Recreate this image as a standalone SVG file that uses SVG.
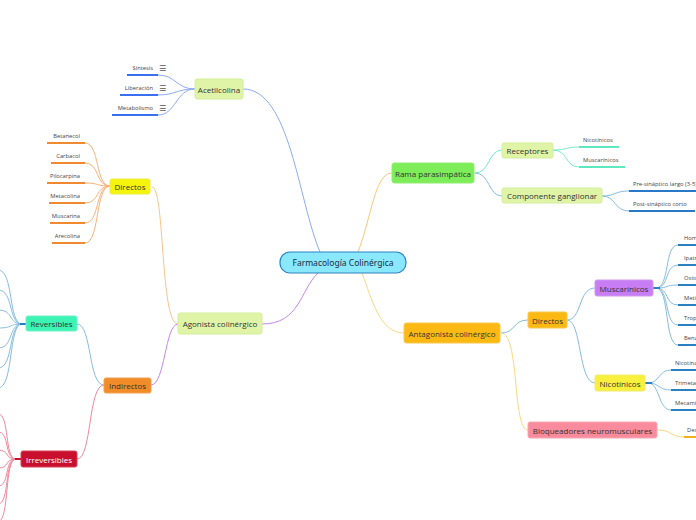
<svg xmlns="http://www.w3.org/2000/svg" width="696" height="520" viewBox="0 0 696 520">
<style>
text{font-family:"Open Sans","Noto Sans","Liberation Sans",sans-serif;fill:#333}
.n{font-size:8px;text-anchor:middle;dominant-baseline:central}
.l{font-size:5.8px;text-anchor:end;fill:#444}
.r{font-size:5.8px;fill:#444}
.c{fill:none;stroke-width:1}
.u{stroke-width:2;fill:none}
.ic{font-family:"DejaVu Sans",sans-serif;font-size:8px;fill:#555}
</style>
<rect width="696" height="520" fill="#fff"/>
<g id="connectors">
  <!-- central branches -->
  <path class="c" stroke="#8fa9f5" d="M243,89 C290,89 298,200 320,252"/>
  <path class="c" stroke="#c586f0" d="M262,324 C300,324 300,290 318,273"/>
  <path class="c" stroke="#f8c878" d="M358,252 C372,215 375,173 392,173"/>
  <path class="c" stroke="#f8d88a" d="M362,273 C372,300 380,333 404,333"/>
  <!-- Acetilcolina leaves -->
  <path class="c" stroke="#8fa9f5" d="M195,89 C176,89 176,75 158,75"/>
  <path class="c" stroke="#8fa9f5" d="M195,89 C176,89 176,95 158,95"/>
  <path class="c" stroke="#8fa9f5" d="M195,89 C176,89 176,115 158,115"/>
  <path class="u" stroke="#3a6ff0" d="M127,75 H158 M120,95 H158 M112,115 H158"/>
  <!-- Agonista -->
  <path class="c" stroke="#f8c48e" d="M152,187 C165,187 160,324 178,324"/>
  <path class="c" stroke="#c586f0" d="M151,385 C165,385 165,324 178,324"/>
  <!-- Directos left leaves -->
  <g stroke="#f6b27a" class="c">
    <path d="M110,186 C95,186 100,143 85,143"/>
    <path d="M110,186 C95,186 100,163 85,163"/>
    <path d="M110,186 C95,186 100,183 85,183"/>
    <path d="M110,186 C95,186 100,203 85,203"/>
    <path d="M110,186 C95,186 100,223 85,223"/>
    <path d="M110,186 C95,186 100,243 85,243"/>
  </g>
  <path class="u" stroke="#f08a30" d="M47,143 H85 M51,163 H85 M47,183 H85 M49,203 H85 M50,223 H85 M52,243 H85"/>
  <!-- Indirectos -->
  <path class="c" stroke="#88bde0" d="M77,324 C92,324 88,385 104,385"/>
  <path class="c" stroke="#f0889a" d="M77,459 C92,459 88,385 104,385"/>
  <!-- Reversibles leaves -->
  <g stroke="#88bde0" class="c">
    <path d="M22,324 C8,324 14,270 -2,270"/>
    <path d="M22,324 C8,324 14,290 -2,290"/>
    <path d="M22,324 C8,324 14,310 -2,310"/>
    <path d="M22,324 C8,324 14,328 -2,328"/>
    <path d="M22,324 C8,324 14,348 -2,348"/>
    <path d="M22,324 C8,324 14,368 -2,368"/>
    <path d="M22,324 C8,324 14,388 -2,388"/>
  </g>
  <path stroke="#2a78c8" stroke-width="2" d="M20,324 H26"/>
  <!-- Irreversibles leaves -->
  <g stroke="#f0889a" class="c">
    <path d="M16,459 C4,459 10,414 -2,414"/>
    <path d="M16,459 C4,459 10,432 -2,432"/>
    <path d="M16,459 C4,459 10,450 -2,450"/>
    <path d="M16,459 C4,459 10,468 -2,468"/>
    <path d="M16,459 C4,459 10,486 -2,486"/>
    <path d="M16,459 C4,459 10,504 -2,504"/>
    <path d="M16,459 C4,459 10,520 -2,522"/>
  </g>
  <path stroke="#c8102e" stroke-width="2" d="M15,459 H21"/>
  <!-- Rama parasimpatica -->
  <path class="c" stroke="#70ecc8" d="M475,173 C490,173 488,150 502,150"/>
  <path class="c" stroke="#88bde0" d="M475,173 C490,173 488,196 502,196"/>
  <path class="c" stroke="#70ecc8" d="M553,150 C568,150 565,147 579,147"/>
  <path class="c" stroke="#70ecc8" d="M553,150 C568,150 565,167 579,167"/>
  <path class="u" stroke="#5ee8c0" d="M579,147 H619 M579,167 H625"/>
  <path class="c" stroke="#88bde0" d="M602,196 C616,196 614,191 629,191"/>
  <path class="c" stroke="#88bde0" d="M602,196 C616,196 614,211 629,211"/>
  <path class="u" stroke="#2a78c8" d="M629,191 H696 M629,211 H695"/>
  <!-- Antagonista -->
  <path class="c" stroke="#88bde0" d="M501,333 C516,333 512,320 528,320"/>
  <path class="c" stroke="#f8d880" d="M501,333 C520,333 512,430 528,430"/>
  <path class="c" stroke="#88bde0" d="M567,320 C582,320 578,288 595,288"/>
  <path class="c" stroke="#88bde0" d="M567,320 C582,320 578,383 595,383"/>
  <!-- Muscarinicos leaves -->
  <g stroke="#88bde0" class="c">
    <path d="M656,288 C670,288 664,245 678,245"/>
    <path d="M656,288 C670,288 664,265 678,265"/>
    <path d="M656,288 C670,288 664,285 678,285"/>
    <path d="M656,288 C670,288 664,305 678,305"/>
    <path d="M656,288 C670,288 664,325 678,325"/>
    <path d="M656,288 C670,288 664,345 678,345"/>
  </g>
  <path stroke="#2a80c0" stroke-width="2" d="M653,288 H660"/>
  <path class="u" stroke="#2a80c0" d="M678,245 H696 M678,265 H696 M678,285 H696 M678,305 H696 M678,325 H696 M678,345 H696"/>
  <!-- Nicotinicos leaves -->
  <g stroke="#88bde0" class="c">
    <path d="M648,383 C660,383 658,370 671,370"/>
    <path d="M648,383 C660,383 658,390 671,390"/>
    <path d="M648,383 C660,383 658,410 671,410"/>
  </g>
  <path stroke="#2a80c0" stroke-width="2" d="M645,383 H652"/>
  <path class="u" stroke="#2a80c0" d="M671,370 H696 M671,390 H696 M671,410 H696"/>
  <!-- Bloqueadores -->
  <path class="c" stroke="#f8d880" d="M658,430 C672,430 670,437 684,437"/>
  <path class="u" stroke="#f0b020" d="M684,437 H696"/>
</g>

<g id="central">
  <rect x="280" y="252" width="126" height="21" rx="10" fill="#8ae8fc" stroke="#2d82c6" stroke-width="1.2"/>
  <text class="n" x="343" y="262.5" style="font-size:8.5px;font-family:'Noto Sans','Liberation Sans',sans-serif;fill:#1a2a40">Farmacología Colinérgica</text>
</g>

<g id="acetilcolina">
  <rect x="195" y="79" width="48" height="20" rx="2.5" fill="#e0f4a8" stroke="#d3ee98"/>
  <text class="n" x="219" y="89">Acetilcolina</text>
</g>
<g id="sintesis"><text class="l" x="153" y="70">Síntesis</text><text class="ic" x="159" y="71">☰</text></g>
<g id="liberacion"><text class="l" x="153" y="90">Liberación</text><text class="ic" x="159" y="91">☰</text></g>
<g id="metabolismo"><text class="l" x="153" y="110">Metabolismo</text><text class="ic" x="159" y="111">☰</text></g>

<g id="directos-ag">
  <rect x="110" y="179" width="40" height="15" rx="2" fill="#f5f50c" stroke="#ecec40"/>
  <text class="n" x="130" y="186.5">Directos</text>
</g>
<g id="betanecol"><text class="l" x="80" y="138">Betanecol</text></g>
<g id="carbacol"><text class="l" x="80" y="158">Carbacol</text></g>
<g id="pilocarpina"><text class="l" x="80" y="178">Pilocarpina</text></g>
<g id="metacolina"><text class="l" x="80" y="198">Metacolina</text></g>
<g id="muscarina"><text class="l" x="80" y="218">Muscarina</text></g>
<g id="arecolina"><text class="l" x="80" y="238">Arecolina</text></g>

<g id="agonista">
  <rect x="178" y="313" width="84" height="21" rx="2.5" fill="#e0f4a8" stroke="#d3ee98"/>
  <text class="n" x="220" y="323.5">Agonista colinérgico</text>
</g>
<g id="indirectos">
  <rect x="104" y="378" width="47" height="15" rx="2" fill="#f28c28" stroke="#f0a050"/>
  <text class="n" x="127.5" y="385.5">Indirectos</text>
</g>
<g id="reversibles">
  <rect x="26" y="316" width="51" height="15" rx="2" fill="#3cf5b4" stroke="#70f0c8"/>
  <text class="n" x="51.5" y="323.5">Reversibles</text>
</g>
<g id="irreversibles">
  <rect x="21" y="451" width="56" height="16" rx="2" fill="#c8102e" stroke="#d84058"/>
  <text class="n" x="49" y="459" style="fill:#fff">Irreversibles</text>
</g>

<g id="rama">
  <rect x="392" y="163" width="82" height="20" rx="2.5" fill="#7ded5a" stroke="#90ec70"/>
  <text class="n" x="433" y="173">Rama parasimpática</text>
</g>
<g id="receptores">
  <rect x="502" y="143" width="51" height="15" rx="2" fill="#e0f4a8" stroke="#d3ee98"/>
  <text class="n" x="527.5" y="150.5">Receptores</text>
</g>
<g id="nicotinicos-r"><text class="r" x="583" y="142">Nicotínicos</text></g>
<g id="muscarinicos-r"><text class="r" x="583" y="162">Muscarínicos</text></g>
<g id="componente">
  <rect x="502" y="188" width="100" height="15" rx="2" fill="#e0f4a8" stroke="#d3ee98"/>
  <text class="n" x="552" y="195.5">Componente ganglionar</text>
</g>
<g id="presinaptico"><text class="r" x="633" y="186">Pre-sináptico largo (3-5)</text></g>
<g id="postsinaptico"><text class="r" x="633" y="206">Post-sináptico corto</text></g>

<g id="antagonista">
  <rect x="404" y="323" width="96" height="20" rx="2.5" fill="#fdb913" stroke="#f8c850"/>
  <text class="n" x="452" y="333">Antagonista colinérgico</text>
</g>
<g id="directos-an">
  <rect x="528" y="312" width="39" height="16" rx="2" fill="#fdb913" stroke="#f8c850"/>
  <text class="n" x="547.5" y="320">Directos</text>
</g>
<g id="muscarinicos">
  <rect x="595" y="280" width="58" height="16" rx="2" fill="#c77df3" stroke="#d098f0"/>
  <text class="n" x="624" y="288">Muscarínicos</text>
</g>
<g id="homatropina"><text class="r" x="684" y="240">Homatropina</text></g>
<g id="ipatropio"><text class="r" x="684" y="260">Ipatropio</text></g>
<g id="oxitropio"><text class="r" x="684" y="280">Oxitropio</text></g>
<g id="metilescopolamina"><text class="r" x="684" y="300">Metilescopolamina</text></g>
<g id="tropicamida"><text class="r" x="684" y="320">Tropicamida</text></g>
<g id="benztropina"><text class="r" x="684" y="340">Benztropina</text></g>
<g id="nicotinicos">
  <rect x="595" y="375" width="50" height="16" rx="2" fill="#f8f03c" stroke="#f0ea70"/>
  <text class="n" x="620" y="383">Nicotínicos</text>
</g>
<g id="nicotina"><text class="r" x="675" y="365">Nicotina</text></g>
<g id="trimetafan"><text class="r" x="675" y="385">Trimetafán</text></g>
<g id="mecamilamina"><text class="r" x="675" y="405">Mecamilamina</text></g>
<g id="bloqueadores">
  <rect x="528" y="422" width="129" height="16" rx="2" fill="#f98b9c" stroke="#f8a8b4"/>
  <text class="n" x="592.5" y="430">Bloqueadores neuromusculares</text>
</g>
<g id="despolarizantes"><text class="r" x="687" y="432">Despolarizantes</text></g>
</svg>
